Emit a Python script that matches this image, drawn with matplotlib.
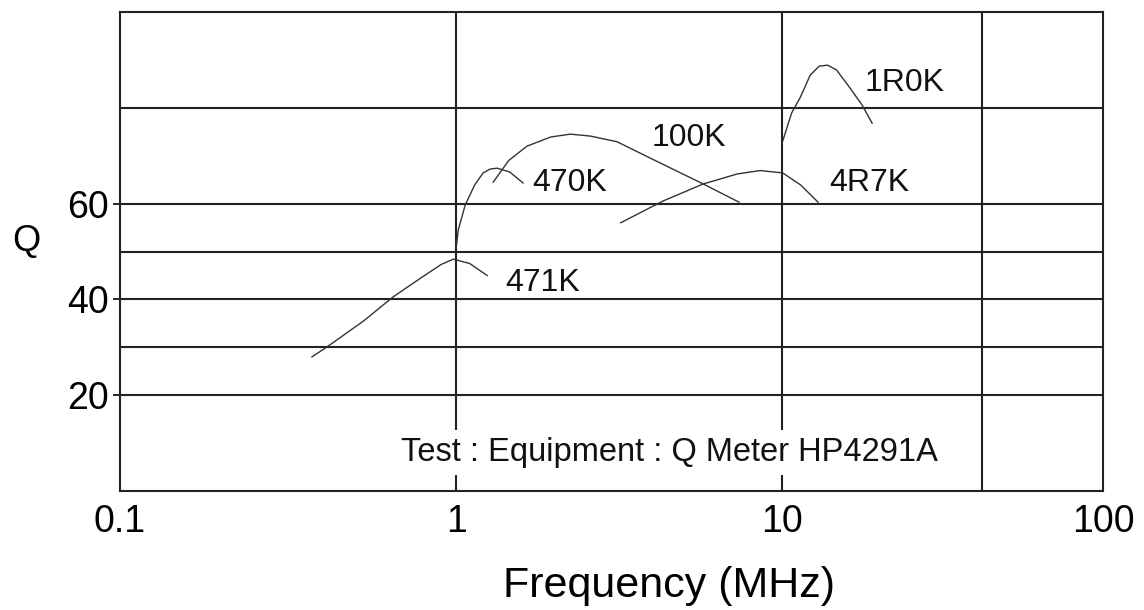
import numpy as np
import matplotlib
matplotlib.use("Agg")
import matplotlib.pyplot as plt

plt.rcParams['font.family'] = ['Liberation Sans', 'DejaVu Sans']

# curve data (frequency in MHz, Q)
f_471k = [0.361, 0.40, 0.52, 0.64, 0.78, 0.90, 0.98, 1.10, 1.245]
q_471k = [28.0, 30.0, 35.5, 40.5, 44.5, 47.3, 48.4, 47.5, 45.0]

f_470k = [1.0, 1.015, 1.066, 1.14, 1.21, 1.27, 1.336, 1.46, 1.605]
q_470k = [50.7, 54.5, 59.7, 63.9, 66.4, 67.2, 67.4, 66.6, 64.3]

f_100k = [1.30, 1.45, 1.65, 1.95, 2.24, 2.58, 3.12, 3.94, 5.73, 7.38]
q_100k = [64.5, 69.0, 72.0, 73.9, 74.5, 74.1, 72.9, 69.5, 64.1, 60.3]

f_4r7k = [3.2, 4.3, 5.73, 7.3, 8.57, 10.05, 11.4, 12.9]
q_4r7k = [56.0, 60.5, 64.1, 66.2, 66.9, 66.4, 63.9, 60.3]

f_1r0k = [10.0, 10.7, 11.4, 12.2, 13.0, 13.8, 14.7, 16.1, 17.6, 18.9]
q_1r0k = [72.6, 78.9, 82.3, 86.8, 88.7, 88.9, 87.9, 84.3, 80.6, 76.8]

curve_names = ['471K', '470K', '100K', '4R7K', '1R0K']
label_f = [1.41, 1.71, 3.99, 14.0, 17.98]
label_q = [43.4, 64.3, 73.7, 64.3, 85.2]

# frame edges sit a little inside the nominal 0.1 / 100 decades
x_lo, x_hi = 0.093, 96.6
x_ticks = [x_lo, 1, 10, x_hi]
x_ticklabels = ['0.1', '1', '10', '100']
y_ticks = [20, 40, 60]
h_grid = [20, 30, 40, 50, 60, 80]
v_grid = [1, 10, 41]

fig = plt.figure(figsize=(11.44, 6.10), dpi=100)
ax = fig.add_axes([120 / 1144, 1 - 491 / 610, 983 / 1144, 479 / 610])

for y in h_grid:
    ax.axhline(y, color='#222222', lw=1.5, zorder=1)
for x in v_grid:
    ax.axvline(x, color='#222222', lw=1.5, zorder=1)

curves = [(f_471k, q_471k), (f_470k, q_470k), (f_100k, q_100k),
          (f_4r7k, q_4r7k), (f_1r0k, q_1r0k)]
for fx, qy in curves:
    ax.plot(fx, qy, color='#333333', lw=1.0, zorder=2)

for name, lf, lq in zip(curve_names, label_f, label_q):
    ax.text(lf, lq, name, fontsize=23, va='center', ha='left', color='#111111', zorder=3)

ax.text(0.675, 8.1, 'Test : Equipment : Q Meter HP4291A', fontsize=23.5, va='center',
        ha='left', color='#111111', zorder=4,
        bbox=dict(facecolor='white', edgecolor='none', pad=5))

ax.set_xscale('log')
ax.set_xlim(x_lo, x_hi)
ax.set_ylim(0, 100)
ax.set_xticks(x_ticks)
ax.set_xticklabels(x_ticklabels)
ax.xaxis.set_minor_locator(matplotlib.ticker.NullLocator())
ax.set_yticks(y_ticks)
ax.tick_params(axis='x', length=0, labelsize=27, pad=9)
ax.tick_params(axis='y', length=5, width=1.2, labelsize=27, pad=3)
for s in ax.spines.values():
    s.set_linewidth(1.5)
    s.set_color('#222222')

ax.set_xlabel('Frequency (MHz)', fontsize=31, va='center')
ax.xaxis.set_label_coords(0.558, -0.198)
ax.set_ylabel('Q', fontsize=26, rotation=0, va='center', ha='center')
ax.yaxis.set_label_coords(-0.095, 0.52)

fig.savefig('out.png', dpi=100)
